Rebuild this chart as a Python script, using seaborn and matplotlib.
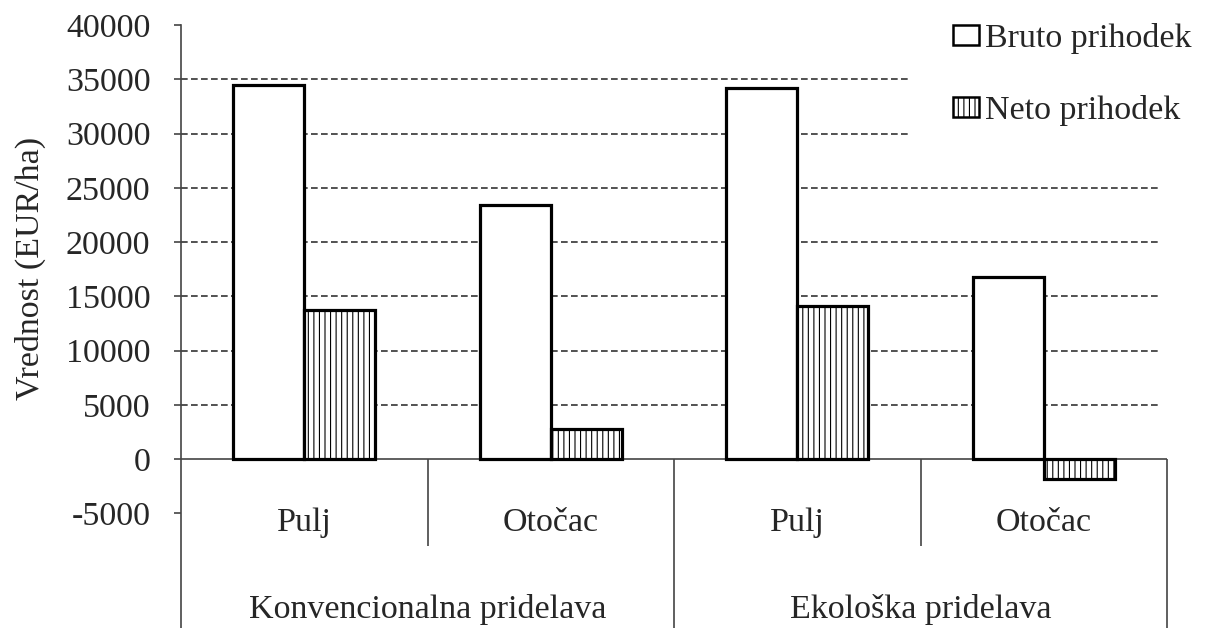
import pandas as pd
import matplotlib.pyplot as plt
import seaborn as sns

# podatki
pridelava = ["Konvencionalna pridelava", "Ekološka pridelava"]
lokacije = ["Pulj", "Otočac", "Pulj", "Otočac"]
kazalniki = ["Bruto prihodek", "Neto prihodek"]
bruto = [34500, 23400, 34200, 16800]
neto = [13700, 2800, 14100, -1800]
yticks = list(range(-5000, 40001, 5000))

# tabela za seaborn (unikatni ključi kategorij)
kategorije = [f"{pridelava[i // 2]} / {lokacije[i]}" for i in range(4)]
df = pd.DataFrame({
    "kategorija": kategorije * 2,
    "kazalnik": [kazalniki[0]] * 4 + [kazalniki[1]] * 4,
    "vrednost": bruto + neto,
})

sns.set_style("white")
plt.rcParams["font.family"] = ["Liberation Serif", "DejaVu Serif"]
plt.rcParams["axes.unicode_minus"] = False
plt.rcParams["hatch.linewidth"] = 0.8
plt.rcParams["hatch.color"] = "black"

fs = 24.5
fig = plt.figure(figsize=(12.14, 6.28), dpi=100)
ax = fig.add_axes([181 / 1214, 0.0, (1167 - 181) / 1214, 1 - 25 / 628])

sns.barplot(data=df, x="kategorija", y="vrednost", hue="kazalnik",
            order=kategorije, hue_order=kazalniki,
            palette=["white", "white"], edgecolor="black", linewidth=2.3,
            width=0.576, saturation=1, legend=False, ax=ax, zorder=3)
for bar in ax.containers[1]:
    bar.set_hatch("|||")

ax.set_xlim(-0.5, 3.5)
ax.set_ylim(-15565, 40000)

# mreža
ax.hlines([v for v in yticks if 0 < v < 40000], -0.5, 3.47,
          colors="#333333", linestyles=(0, (4, 2)), linewidth=1.2, zorder=1)
ax.axhline(0, color="#444444", lw=1.2, zorder=2)

# osi
for s in ["top", "right", "bottom"]:
    ax.spines[s].set_visible(False)
ax.spines["left"].set_color("#444444")
ax.spines["left"].set_linewidth(1.2)
ax.set_yticks(yticks)
ax.set_yticklabels([str(v) for v in yticks], fontsize=fs)
ax.tick_params(axis="y", length=5, width=1.2, color="#444444", pad=17, left=True)
ax.set_xticks([])
ax.set_xlabel("")
ax.set_ylabel("")

# kategorijska os (dve ravni)
ax.vlines([0.5, 2.5], -8000, 0, colors="#444444", lw=1.2)
ax.vlines([1.5, 3.5], -15565, 0, colors="#444444", lw=1.2, clip_on=False)
for i, lok in enumerate(lokacije):
    ax.text(i, -5900, lok, ha="center", va="center", fontsize=fs)
for j, p in enumerate(pridelava):
    ax.text(2 * j + 0.5, -13900, p, ha="center", va="center", fontsize=fs)

fig.text(30 / 1214, 1 - 268 / 628, "Vrednost (EUR/ha)", rotation=90,
         ha="center", va="center", fontsize=fs)

# legenda
handles = [ax.containers[0].patches[0], ax.containers[1].patches[0]]
leg = ax.legend(handles, kazalniki, loc="upper left",
                bbox_to_anchor=(909 / 1214, 1 + 21 / 628),
                bbox_transform=fig.transFigure, fontsize=fs,
                frameon=True, framealpha=1, facecolor="white", edgecolor="white",
                fancybox=False, borderpad=1.3, borderaxespad=0,
                handlelength=0.76, handleheight=0.53, handletextpad=0.18,
                labelspacing=1.19)
leg.set_zorder(5)
for h in leg.legend_handles:
    h.set_linewidth(1.8)

fig.savefig("out.png", dpi=100)
